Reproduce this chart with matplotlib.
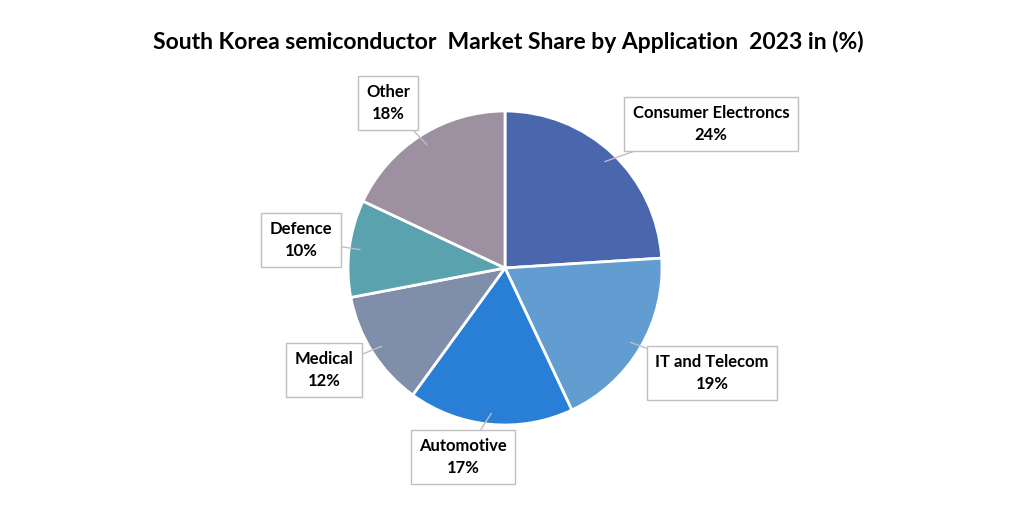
import matplotlib
matplotlib.use("Agg")
import matplotlib.pyplot as plt
import numpy as np

labels = ["Consumer Electroncs", "IT and Telecom", "Automotive", "Medical", "Defence", "Other"]
shares = [24, 19, 17, 12, 10, 18]
colors = ["#4A66AC", "#629DD1", "#297FD5", "#7F8FA9", "#5AA2AE", "#9D90A0"]

# label box centres in pixel coords (y down)
box_pos = [(711, 124), (712, 373), (463, 457), (324, 370), (301, 240), (388, 103)]

W, H = 1036, 525
fig = plt.figure(figsize=(W / 100, H / 100), dpi=100)
ax = fig.add_axes([0, 0, 1, 1])

cx, cy, r = 505, H - 268, 157
wedges, _ = ax.pie(shares, colors=colors, startangle=90, counterclock=False,
                   center=(cx, cy), radius=r, frame=True,
                   wedgeprops=dict(edgecolor="white", linewidth=2))
ax.set_xlim(0, W)
ax.set_ylim(0, H)
ax.set_aspect("equal")
ax.axis("off")

start = 90.0
for lab, s, (bx, by) in zip(labels, shares, box_pos):
    mid = np.deg2rad(start - s * 3.6 / 2)
    start -= s * 3.6
    px, py = cx + 0.93 * r * np.cos(mid), cy + 0.93 * r * np.sin(mid)
    ax.annotate(f"{lab}\n{s}%", xy=(px, py), xytext=(bx, H - by),
                ha="center", va="center", fontsize=12, fontweight="bold",
                family="Lato", linespacing=1.45,
                bbox=dict(boxstyle="square,pad=0.5", fc="white", ec="#BFBFBF", lw=1),
                arrowprops=dict(arrowstyle="-", color="#BFBFBF", lw=1, shrinkA=0, shrinkB=0))

fig.text(0.491, 1 - 42 / H, "South Korea semiconductor  Market Share by Application  2023 in (%)",
         ha="center", va="center", fontsize=16.5, fontweight="bold", family="Lato")

fig.savefig("out.png", dpi=100, facecolor="white")
